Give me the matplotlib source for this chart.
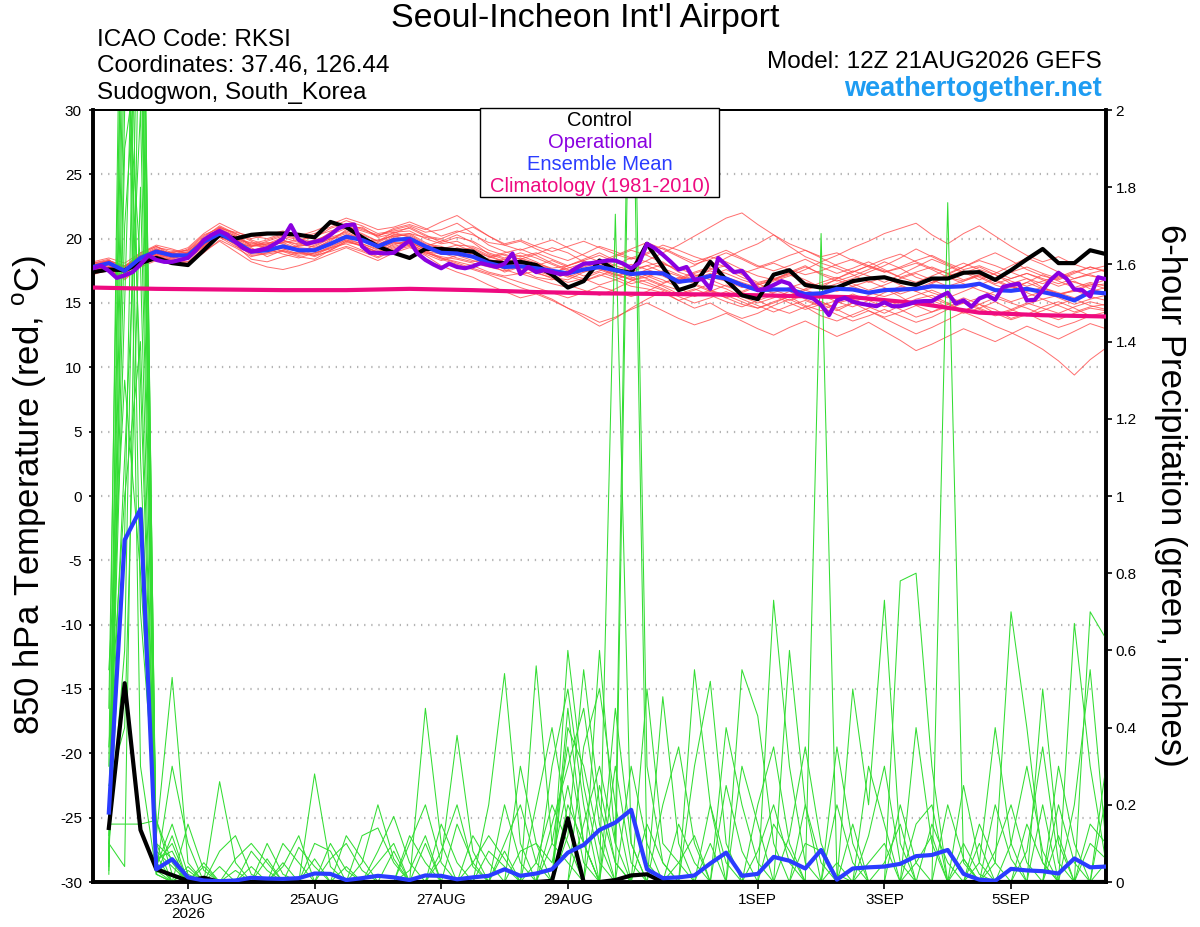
import matplotlib
matplotlib.use('Agg')
import matplotlib.pyplot as plt
from matplotlib.patches import Rectangle
from datetime import datetime, timedelta

plt.rcParams['font.family'] = ['Liberation Sans', 'DejaVu Sans']

# ---------------- data ----------------
start = datetime(2026, 8, 21, 12)
t6 = [start + timedelta(hours=6 * k) for k in range(65)]
t3 = [start + timedelta(hours=3 * j) for j in range(129)]

control_temp = [17.4, 17.6, 17.55, 18.1, 18.5, 18.1, 17.95, 19.1, 20.3, 20.0, 20.3, 20.4, 20.4, 20.3, 20.1, 21.3,
                20.9, 20.1, 19.4, 18.9, 18.5, 19.2, 19.2, 19.1, 19.0, 18.2, 18.1, 18.2, 17.95, 17.2, 16.2, 16.7,
                18.3, 17.55, 17.35, 19.6, 17.8, 16.0, 16.4, 18.2, 16.8, 15.6, 15.3, 17.2, 17.55, 16.4, 16.2, 16.2,
                16.7, 16.9, 17.0, 16.65, 16.4, 16.9, 16.9, 17.35, 17.4, 16.8, 17.55, 18.4, 19.2, 18.1, 18.1, 19.1, 18.8]

mean_temp = [17.8, 18.1, 17.5, 18.5, 19.0, 18.7, 18.7, 19.75, 20.4, 19.75, 19.0, 19.1, 19.4, 19.1, 19.1, 19.6,
             20.15, 19.9, 19.4, 19.9, 20.0, 19.4, 18.9, 18.85, 18.6, 18.1, 17.8, 17.85, 17.7, 17.5, 17.3, 17.6,
             17.8, 17.55, 17.25, 17.35, 17.3, 16.65, 16.8, 17.1, 16.9, 16.4, 16.0, 16.05, 16.05, 15.7, 15.75, 16.1,
             16.05, 15.8, 16.0, 16.05, 16.1, 16.3, 16.25, 16.3, 16.5, 16.0, 15.95, 16.1, 15.85, 15.6, 15.2, 15.85, 15.75]

oper_temp = [17.7, 17.9, 17.5, 16.95, 17.15, 17.4, 18.0, 18.7, 18.35, 18.2, 18.2, 18.35, 18.5, 19.1, 19.9, 20.3,
             20.6, 20.3, 19.75, 19.25, 19.0, 19.1, 19.25, 19.6, 20.0, 21.05, 19.9, 19.6, 19.75, 19.9, 20.3, 20.8,
             21.05, 21.1, 19.4, 18.9, 18.9, 18.85, 18.9, 19.4, 19.85, 18.85, 18.35, 18.0, 17.7, 18.05, 17.8, 17.7,
             17.85, 18.1, 17.95, 17.8, 18.05, 18.85, 17.25, 17.8, 17.4, 17.55, 17.4, 17.25, 17.3, 17.7, 18.05, 18.1,
             18.2, 18.3, 18.3, 18.05, 17.7, 18.1, 19.6, 19.25, 18.75, 18.2, 17.6, 17.8, 16.8, 16.85, 16.1, 18.5,
             17.95, 17.4, 17.5, 16.8, 16.0, 16.1, 16.4, 16.7, 16.5, 15.7, 15.5, 15.35, 14.85, 14.05, 15.2, 15.4,
             15.1, 14.95, 14.85, 14.75, 15.05, 14.75, 14.75, 14.9, 15.1, 15.15, 15.15, 15.5, 15.8, 14.95, 15.2, 14.7,
             15.35, 15.6, 15.25, 16.25, 16.4, 16.5, 15.2, 15.25, 16.0, 16.8, 17.35, 16.9, 16.05, 16.0, 15.5, 17.0, 16.85]

clim_days = [0, 4, 8, 12, 16, 20, 24, 28, 32, 36, 40, 44, 48, 52, 56, 60, 64]
clim_temp = [16.2, 16.1, 16.05, 16.0, 16.0, 16.1, 16.0, 15.85, 15.75, 15.7, 15.65, 15.55, 15.45, 15.0, 14.25, 14.05, 13.95]

member_temps = [
    [17.6, 17.9, 17.3, 18.2, 18.9, 18.5, 18.8, 19.9, 20.6, 20.1, 19.5, 19.3, 19.8, 19.6, 19.9, 20.3, 20.8, 20.4, 19.8, 20.5, 20.6, 20.0, 19.6, 19.8, 19.2, 18.6, 18.2, 18.5, 18.1, 17.7, 17.9, 18.4, 18.9, 18.3, 17.6, 17.9, 18.2, 17.4, 17.0, 17.6, 17.9, 17.2, 16.6, 16.9, 17.3, 16.8, 16.2, 16.9, 17.5, 17.1, 16.6, 17.2, 17.8, 18.4, 17.9, 17.3, 17.8, 17.2, 16.5, 16.9, 16.2, 15.7, 15.9, 16.4, 16.8],
    [17.9, 18.3, 17.8, 18.7, 19.3, 19.1, 18.9, 19.5, 20.2, 19.6, 18.7, 18.8, 19.0, 18.6, 18.4, 19.1, 19.7, 19.5, 18.9, 19.6, 19.8, 19.1, 18.5, 18.2, 17.9, 17.4, 17.1, 17.3, 16.9, 16.5, 16.2, 16.7, 17.2, 16.8, 16.3, 16.1, 15.8, 15.2, 15.6, 16.0, 15.4, 14.9, 14.6, 15.1, 15.5, 14.8, 14.4, 15.0, 15.3, 14.7, 14.2, 14.8, 15.3, 15.6, 15.0, 14.4, 14.9, 14.5, 13.8, 14.2, 13.6, 13.1, 13.5, 14.0, 14.3],
    [17.5, 17.8, 17.6, 18.8, 19.4, 18.9, 18.4, 19.6, 20.9, 20.3, 19.4, 19.6, 20.1, 19.7, 19.3, 19.8, 20.7, 20.9, 20.1, 20.4, 20.9, 20.3, 19.7, 20.1, 19.8, 19.1, 18.7, 18.4, 18.8, 19.3, 18.9, 18.2, 17.8, 18.6, 19.1, 18.7, 18.1, 17.5, 17.9, 18.6, 18.2, 17.6, 17.1, 16.8, 17.4, 17.9, 17.2, 16.7, 17.1, 17.6, 18.2, 17.7, 17.0, 16.6, 17.2, 17.8, 18.4, 18.9, 18.3, 17.6, 17.1, 16.8, 17.3, 17.8, 17.4],
    [18.1, 18.4, 17.2, 18.3, 18.8, 18.4, 18.9, 20.1, 21.0, 20.4, 19.8, 19.2, 18.8, 18.5, 18.9, 19.3, 19.6, 19.1, 18.6, 19.2, 19.5, 18.8, 18.3, 18.7, 18.9, 18.3, 17.6, 17.2, 17.5, 17.1, 16.6, 16.9, 17.4, 17.0, 16.5, 16.8, 16.3, 15.7, 16.1, 15.6, 15.1, 14.7, 15.2, 14.6, 14.2, 14.7, 15.1, 14.5, 13.9, 14.4, 13.8, 13.2, 12.6, 13.1, 13.7, 14.3, 13.8, 13.2, 12.7, 12.1, 11.4, 10.5, 9.4, 10.6, 11.5],
    [17.3, 17.5, 16.9, 17.9, 18.6, 18.7, 19.2, 20.3, 20.8, 20.5, 20.2, 20.0, 20.4, 20.2, 20.6, 21.1, 21.6, 21.2, 20.7, 20.9, 21.3, 20.8, 20.2, 20.6, 20.3, 19.7, 19.5, 19.8, 19.2, 18.7, 18.3, 18.8, 19.4, 19.0, 18.5, 18.9, 19.5, 19.1, 18.6, 18.2, 17.8, 17.3, 17.7, 18.1, 17.6, 17.2, 17.5, 18.0, 18.4, 17.9, 17.4, 17.7, 18.1, 17.6, 17.0, 16.7, 17.1, 16.5, 16.9, 17.3, 16.8, 16.3, 16.7, 16.1, 15.8],
    [17.7, 18.0, 17.9, 18.4, 18.7, 18.2, 18.5, 19.4, 20.1, 19.4, 18.9, 19.4, 19.7, 19.2, 19.0, 19.5, 20.0, 19.6, 19.1, 19.7, 19.6, 19.0, 18.8, 19.3, 18.9, 18.1, 17.4, 17.8, 17.4, 16.9, 16.4, 16.0, 15.6, 16.1, 16.7, 17.2, 16.8, 16.2, 15.5, 15.9, 16.4, 15.8, 15.2, 15.6, 15.0, 14.5, 14.9, 14.4, 15.0, 15.6, 16.1, 15.5, 14.8, 14.3, 14.7, 15.2, 14.6, 14.1, 14.5, 15.0, 14.6, 14.2, 14.7, 15.1, 14.8],
    [18.0, 18.2, 17.7, 18.6, 19.2, 18.8, 18.6, 19.8, 20.5, 19.9, 19.3, 18.6, 19.1, 19.5, 19.4, 20.0, 20.4, 19.9, 19.5, 20.2, 20.3, 19.6, 19.4, 19.0, 18.6, 18.3, 18.0, 17.6, 17.0, 16.8, 17.3, 17.9, 18.4, 17.9, 17.5, 17.1, 16.6, 16.9, 17.4, 17.8, 18.5, 19.1, 19.6, 20.3, 19.4, 18.6, 18.1, 17.7, 17.2, 16.6, 17.0, 16.4, 15.9, 16.5, 17.1, 17.5, 17.0, 16.4, 16.0, 16.6, 17.2, 16.7, 16.2, 16.6, 16.3],
    [17.4, 17.7, 17.5, 18.0, 18.9, 18.8, 19.0, 19.9, 20.7, 20.2, 19.6, 19.9, 20.3, 20.0, 19.7, 20.5, 21.0, 20.6, 20.2, 20.7, 21.0, 20.5, 20.7, 21.2, 20.4, 19.5, 19.0, 18.6, 18.9, 18.4, 17.9, 18.3, 18.7, 18.2, 17.7, 18.3, 18.9, 19.5, 20.2, 20.9, 21.6, 22.0, 21.1, 20.3, 19.6, 19.1, 18.6, 18.9, 18.3, 17.8, 17.4, 17.8, 18.3, 18.7, 18.1, 17.6, 17.9, 17.4, 16.9, 17.3, 16.9, 16.5, 16.9, 17.2, 16.8],
    [17.6, 17.8, 16.8, 17.9, 18.5, 18.3, 18.2, 19.3, 20.3, 19.5, 18.4, 18.2, 18.6, 18.9, 18.7, 19.0, 19.4, 19.0, 18.5, 19.1, 19.4, 18.7, 17.9, 17.4, 17.0, 16.4, 15.9, 15.4, 15.7, 15.2, 14.6, 14.1, 13.5, 13.9, 14.5, 15.0, 14.4, 13.8, 13.3, 13.7, 14.2, 13.6, 13.0, 12.5, 13.1, 13.6, 13.0, 12.4, 12.9, 13.5, 12.8, 12.1, 11.3, 11.8, 12.4, 13.0, 12.5, 12.0, 12.6, 13.2, 12.7, 12.2, 12.8, 13.4, 13.0],
    [17.9, 18.2, 17.4, 18.5, 19.1, 18.6, 18.7, 19.7, 20.4, 19.8, 19.1, 19.3, 19.2, 18.8, 19.2, 19.6, 20.3, 20.1, 19.6, 20.0, 19.7, 19.2, 19.1, 18.7, 18.3, 18.0, 17.7, 18.1, 17.9, 18.3, 17.8, 17.4, 17.9, 17.3, 16.8, 17.0, 17.5, 17.1, 16.6, 17.0, 16.7, 16.2, 16.5, 16.0, 15.6, 16.1, 16.6, 17.0, 16.5, 16.0, 16.4, 16.9, 17.3, 16.8, 16.3, 16.7, 17.2, 16.8, 16.3, 15.9, 16.2, 15.8, 15.4, 15.9, 16.2],
    [17.2, 17.6, 17.7, 18.6, 19.0, 18.9, 18.6, 19.5, 20.5, 20.0, 19.0, 19.5, 19.9, 19.3, 19.2, 19.9, 20.6, 20.2, 19.3, 20.1, 20.4, 19.7, 19.2, 19.5, 19.4, 18.9, 18.5, 18.9, 18.5, 18.0, 17.5, 17.8, 18.1, 17.6, 17.1, 17.6, 18.0, 17.7, 17.2, 16.8, 16.3, 15.9, 16.4, 16.8, 17.2, 16.6, 16.1, 16.5, 16.9, 17.4, 17.9, 18.5, 19.2, 18.6, 18.0, 17.4, 16.8, 17.3, 17.9, 18.5, 18.0, 17.4, 16.9, 17.3, 17.6],
    [17.8, 18.0, 17.6, 18.3, 18.8, 18.5, 18.9, 19.8, 20.6, 19.9, 19.2, 19.0, 19.3, 19.4, 19.6, 20.1, 20.5, 20.0, 19.7, 20.3, 20.2, 19.5, 19.0, 19.2, 18.8, 18.4, 18.1, 17.9, 17.3, 17.0, 16.8, 17.4, 17.7, 17.2, 16.9, 17.4, 17.1, 16.5, 16.9, 17.3, 16.9, 16.4, 16.1, 16.7, 17.1, 17.6, 18.2, 18.7, 19.3, 19.8, 20.4, 20.8, 21.2, 20.3, 19.6, 20.4, 21.0, 20.2, 19.4, 18.7, 18.2, 18.6, 18.0, 17.6, 17.9],
    [17.5, 17.7, 17.1, 18.1, 18.7, 19.0, 19.1, 20.0, 20.8, 20.2, 19.5, 19.7, 19.6, 19.1, 18.8, 19.4, 19.9, 19.4, 19.0, 19.5, 19.9, 19.4, 19.8, 20.3, 19.7, 18.8, 18.4, 18.7, 18.2, 17.6, 17.2, 16.9, 16.4, 16.8, 17.3, 16.9, 16.4, 16.0, 16.4, 15.9, 15.4, 15.8, 16.3, 15.7, 15.2, 15.6, 15.1, 14.6, 15.0, 14.4, 13.9, 14.3, 14.8, 15.2, 14.7, 14.2, 14.6, 15.1, 14.5, 14.0, 14.4, 14.9, 15.3, 14.8, 14.5],
    [18.2, 18.5, 18.1, 18.9, 19.5, 19.2, 18.8, 19.6, 20.1, 19.7, 19.4, 19.8, 20.2, 19.9, 20.1, 20.8, 21.2, 20.7, 20.3, 20.5, 20.1, 19.5, 19.3, 18.8, 18.5, 18.2, 18.4, 18.0, 17.8, 17.4, 17.7, 18.1, 17.6, 17.1, 17.4, 17.9, 17.4, 16.8, 17.1, 17.5, 17.0, 16.6, 16.2, 15.8, 16.2, 16.6, 16.3, 15.9, 16.3, 16.7, 16.2, 15.7, 16.1, 16.6, 17.0, 16.5, 16.0, 15.6, 15.1, 15.5, 15.9, 15.4, 14.9, 15.3, 15.6],
    [17.6, 18.0, 17.3, 18.4, 19.0, 18.6, 18.4, 19.4, 20.2, 19.6, 18.8, 18.9, 19.1, 18.7, 18.9, 19.2, 19.8, 19.4, 18.8, 19.3, 19.6, 19.0, 18.4, 18.0, 17.6, 17.2, 16.7, 16.2, 15.8, 15.3, 14.6, 13.9, 13.2, 13.8, 14.6, 15.3, 15.9, 15.2, 14.6, 15.0, 14.3, 13.8, 14.2, 14.8, 15.3, 14.7, 14.0, 13.6, 14.1, 14.6, 15.1, 14.5, 13.9, 14.3, 14.9, 15.4, 14.9, 14.2, 13.7, 14.1, 14.7, 15.1, 14.6, 14.0, 13.8],
    [17.8, 18.1, 17.8, 18.6, 19.2, 18.8, 18.9, 19.9, 20.6, 20.0, 19.4, 19.6, 19.9, 19.5, 19.8, 20.4, 21.1, 20.8, 20.2, 20.8, 21.1, 20.7, 21.3, 21.8, 21.0, 20.2, 19.6, 19.9, 19.4, 19.0, 19.4, 19.8, 19.3, 18.8, 18.4, 18.8, 19.3, 18.7, 18.2, 18.6, 19.1, 18.5, 17.9, 17.5, 17.9, 18.4, 17.8, 17.3, 17.7, 18.2, 17.6, 17.0, 17.4, 17.8, 17.3, 16.8, 17.2, 16.7, 16.2, 16.6, 16.1, 15.7, 16.0, 16.5, 16.1],
    [17.4, 17.6, 17.0, 18.0, 18.6, 18.4, 18.5, 19.6, 20.4, 19.7, 19.0, 19.2, 19.5, 19.0, 18.6, 19.1, 19.8, 19.5, 18.9, 19.4, 19.7, 19.2, 18.8, 19.1, 19.3, 18.7, 18.2, 17.7, 17.9, 17.5, 17.0, 17.5, 18.0, 17.5, 17.0, 16.6, 16.1, 15.6, 16.0, 16.5, 16.1, 15.5, 15.0, 15.4, 15.9, 15.3, 14.8, 15.2, 15.7, 15.2, 14.7, 15.1, 15.6, 16.0, 15.5, 15.0, 15.4, 15.9, 16.3, 15.8, 15.3, 15.6, 16.0, 15.5, 15.2],
    [18.0, 18.3, 17.9, 18.7, 19.0, 18.9, 19.1, 20.2, 20.9, 20.4, 19.9, 19.5, 19.7, 19.9, 20.2, 20.6, 20.9, 20.3, 19.8, 20.3, 20.4, 20.1, 19.9, 19.5, 19.0, 18.6, 18.9, 19.2, 18.7, 18.1, 17.6, 17.1, 17.5, 18.0, 18.5, 18.2, 17.7, 17.2, 16.7, 17.1, 17.6, 17.0, 16.5, 16.9, 16.4, 16.0, 16.4, 16.8, 16.3, 15.8, 15.5, 15.9, 16.3, 15.8, 15.4, 15.9, 16.4, 16.9, 17.4, 16.9, 16.5, 17.0, 17.5, 17.1, 16.9],
    [17.3, 17.5, 17.0, 17.8, 18.3, 18.0, 18.2, 19.0, 19.8, 19.0, 18.2, 17.8, 17.6, 17.9, 18.3, 18.8, 19.3, 18.8, 18.3, 18.9, 19.3, 18.9, 18.5, 18.1, 17.7, 17.3, 17.0, 16.6, 16.2, 15.8, 15.4, 15.8, 16.3, 15.9, 15.5, 15.9, 16.5, 17.0, 16.5, 16.0, 15.6, 15.1, 14.6, 15.0, 15.5, 16.0, 15.6, 15.1, 14.7, 15.2, 15.8, 16.3, 15.9, 15.4, 14.9, 14.4, 14.9, 15.4, 15.0, 14.6, 14.1, 13.7, 14.2, 14.6, 14.4],
    [17.9, 18.2, 17.6, 18.5, 19.1, 18.9, 19.3, 20.4, 21.2, 20.6, 20.0, 20.3, 20.6, 20.1, 20.4, 20.9, 21.4, 21.0, 20.4, 20.6, 20.8, 20.2, 20.0, 20.5, 20.9, 20.2, 19.5, 19.1, 19.5, 19.9, 19.3, 18.7, 18.2, 18.7, 19.2, 19.7, 19.2, 18.6, 18.0, 18.4, 18.9, 18.4, 17.8, 18.2, 18.7, 19.1, 18.5, 17.9, 17.4, 17.9, 18.4, 18.8, 18.2, 17.7, 17.3, 17.8, 18.3, 17.9, 17.4, 17.8, 17.3, 16.9, 17.4, 17.8, 17.5],
    [17.6, 17.8, 17.5, 18.3, 18.7, 18.3, 18.0, 18.9, 19.9, 19.3, 18.6, 18.9, 19.3, 19.0, 18.7, 19.3, 19.9, 19.6, 19.2, 19.7, 19.5, 18.9, 18.6, 18.4, 18.1, 17.8, 17.5, 17.9, 17.6, 17.2, 17.9, 18.3, 17.7, 17.2, 16.8, 16.4, 16.0, 15.5, 15.0, 15.4, 15.9, 15.3, 14.8, 14.3, 14.8, 15.2, 14.7, 14.1, 13.6, 14.0, 14.5, 14.0, 13.5, 13.9, 14.5, 15.0, 14.5, 14.0, 14.4, 14.9, 15.3, 14.8, 14.3, 14.7, 14.9],
    [18.1, 18.3, 17.8, 18.9, 19.4, 18.7, 18.5, 19.5, 20.3, 19.9, 19.7, 19.4, 19.0, 18.9, 19.5, 20.0, 20.2, 19.8, 19.9, 20.2, 19.8, 19.3, 18.9, 18.5, 18.2, 18.5, 18.8, 18.4, 18.0, 17.6, 17.1, 16.7, 17.1, 17.6, 18.0, 17.6, 17.2, 16.8, 17.3, 17.7, 17.3, 16.8, 16.4, 16.8, 17.3, 17.8, 17.3, 16.9, 17.4, 17.9, 17.5, 17.0, 16.6, 17.1, 17.6, 18.1, 17.6, 17.2, 16.7, 16.3, 16.7, 17.1, 16.6, 16.3, 16.5],
]

# 6-hour precipitation (inches), steps 1..64 after 21AUG 12Z
mean_precip = [0.18, 0.886, 0.966, 0.033, 0.059, 0.012, 0.004, 0.002, 0.004, 0.011, 0.009, 0.008, 0.01, 0.022,
               0.021, 0.005, 0.01, 0.016, 0.012, 0.005, 0.017, 0.016, 0.007, 0.012, 0.016, 0.033, 0.016, 0.022,
               0.033, 0.076, 0.096, 0.135, 0.154, 0.187, 0.033, 0.01, 0.012, 0.017, 0.048, 0.076, 0.016, 0.021,
               0.065, 0.055, 0.035, 0.083, 0.006, 0.035, 0.038, 0.04, 0.047, 0.067, 0.07, 0.083, 0.021, 0.006,
               0.003, 0.034, 0.03, 0.028, 0.022, 0.061, 0.038, 0.04]
control_precip = {1: 0.14, 2: 0.515, 3: 0.135, 4: 0.033, 5: 0.018, 6: 0.003, 7: 0.011, 29: 0.003, 30: 0.165,
                  33: 0.005, 34: 0.017, 35: 0.02}
member_precips = [
    {1: 0.55, 2: 1.3, 3: 0.8, 4: 0.12, 5: 0.53, 6: 0.05, 14: 0.28, 15: 0.04, 22: 0.06, 23: 0.38, 24: 0.08, 30: 0.12, 31: 0.55, 32: 0.2, 33: 0.05, 43: 0.73, 44: 0.3, 45: 0.05, 57: 0.05, 58: 0.7, 59: 0.4, 60: 0.05},
    {1: 0.15, 2: 2.6, 3: 2.4, 4: 0.05, 5: 0.1, 8: 0.26, 9: 0.05, 18: 0.08, 19: 0.17, 20: 0.05, 28: 0.56, 29: 0.1, 30: 0.35, 31: 0.1, 33: 1.73, 34: 0.1, 46: 1.68, 47: 0.02, 52: 0.15, 53: 0.2, 62: 0.67, 63: 0.3, 64: 0.05},
    {1: 0.08, 2: 0.9, 3: 3.0, 4: 0.02, 6: 0.15, 7: 0.03, 12: 0.1, 13: 0.05, 25: 0.2, 26: 0.54, 27: 0.1, 32: 0.6, 33: 0.1, 34: 2.6, 35: 0.3, 36: 0.05, 48: 0.5, 49: 0.2, 50: 0.73, 51: 0.1, 63: 0.7, 64: 0.63},
    {1: 0.3, 2: 3.2, 3: 1.1, 4: 0.08, 5: 0.04, 10: 0.04, 21: 0.45, 22: 0.1, 29: 0.3, 30: 0.5, 31: 0.2, 34: 2.4, 35: 0.05, 38: 0.3, 39: 0.52, 40: 0.1, 54: 1.76, 55: 0.05, 60: 0.2},
    {1: 0.03, 2: 1.9, 3: 2.2, 4: 0.1, 5: 0.06, 11: 0.06, 17: 0.12, 18: 0.14, 19: 0.05, 30: 0.4, 31: 0.3, 32: 0.1, 41: 0.55, 42: 0.43, 43: 0.1, 51: 0.78, 52: 0.8, 53: 0.3, 64: 0.22},
    {1: 0.1, 2: 0.6, 3: 2.7, 4: 0.04, 5: 0.15, 6: 0.02, 9: 0.03, 14: 0.1, 15: 0.08, 23: 0.15, 24: 0.05, 27: 0.08, 28: 0.1, 29: 0.05, 30: 0.25, 31: 0.05, 36: 0.48, 37: 0.1, 44: 0.6, 45: 0.2, 47: 0.05, 56: 0.05, 57: 0.4, 58: 0.1},
    {1: 0.05, 2: 2.2, 3: 1.6, 4: 0.03, 13: 0.09, 14: 0.04, 20: 0.1, 21: 0.2, 22: 0.05, 26: 0.1, 27: 0.2, 28: 0.05, 35: 0.5, 36: 0.1, 37: 0.05, 42: 0.2, 43: 0.35, 44: 0.1, 55: 0.25, 56: 0.05, 60: 0.5, 61: 0.1},
    {1: 0.12, 2: 1.5, 3: 2.9, 4: 0.06, 5: 0.08, 12: 0.05, 16: 0.04, 24: 0.12, 25: 0.05, 29: 0.15, 30: 0.3, 31: 0.45, 32: 0.15, 38: 0.55, 39: 0.2, 47: 0.35, 48: 0.1, 53: 0.15, 54: 0.05, 61: 0.3, 62: 0.1},
    {1: 0.04, 2: 2.9, 3: 0.7, 4: 0.16, 5: 0.02, 7: 0.05, 18: 0.05, 19: 0.1, 26: 0.2, 27: 0.05, 31: 0.15, 32: 0.3, 33: 0.1, 40: 0.25, 41: 0.08, 49: 0.12, 50: 0.3, 51: 0.05, 59: 0.15, 60: 0.05},
    {1: 0.2, 2: 1.1, 3: 2.0, 4: 0.05, 6: 0.04, 15: 0.06, 16: 0.1, 17: 0.03, 22: 0.15, 23: 0.05, 30: 0.2, 31: 0.1, 37: 0.15, 38: 0.05, 45: 0.2, 46: 0.05, 52: 0.05, 53: 0.12, 57: 0.08, 58: 0.2, 59: 0.05},
    {1: 0.07, 2: 2.4, 3: 1.3, 4: 0.02, 5: 0.12, 10: 0.08, 11: 0.03, 21: 0.1, 28: 0.05, 29: 0.2, 30: 0.1, 34: 0.3, 35: 0.1, 39: 0.2, 40: 0.05, 48: 0.15, 56: 0.1, 62: 0.2, 63: 0.55, 64: 0.1},
    {1: 0.25, 2: 0.4, 3: 1.8, 4: 0.1, 8: 0.08, 9: 0.12, 10: 0.02, 19: 0.08, 25: 0.08, 26: 0.04, 30: 0.15, 33: 0.3, 34: 0.05, 43: 0.15, 44: 0.08, 49: 0.05, 50: 0.1, 55: 0.06, 61: 0.12, 64: 0.05},
    {1: 0.15, 2: 0.15, 3: 0.15, 4: 0.16, 5: 0.05, 9: 0.06, 10: 0.1, 11: 0.05, 16: 0.12, 17: 0.06, 24: 0.05, 25: 0.12, 26: 0.06, 31: 0.35, 32: 0.5, 33: 0.2, 41: 0.3, 42: 0.15, 49: 0.3, 50: 0.15, 57: 0.2, 58: 0.06, 63: 0.15, 64: 0.1},
    {1: 0.1, 2: 0.04, 3: 2.5, 4: 0.05, 7: 0.04, 14: 0.06, 20: 0.12, 21: 0.05, 28: 0.2, 29: 0.4, 30: 0.15, 36: 0.2, 37: 0.35, 38: 0.1, 45: 0.1, 46: 0.08, 52: 0.4, 53: 0.1, 59: 0.08, 60: 0.35, 61: 0.05},
    {1: 0.02, 2: 2.0, 3: 3.0, 4: 0.03, 5: 0.3, 6: 0.1, 12: 0.04, 13: 0.12, 22: 0.08, 23: 0.2, 24: 0.04, 30: 0.45, 31: 0.1, 35: 0.15, 36: 0.05, 40: 0.4, 41: 0.2, 42: 0.05, 51: 0.2, 52: 0.05, 55: 0.1, 56: 0.02, 64: 0.3},
    {1: 0.45, 2: 2.8, 3: 0.3, 4: 0.02, 8: 0.04, 17: 0.05, 18: 0.2, 19: 0.06, 27: 0.3, 28: 0.1, 32: 0.25, 33: 0.05, 39: 0.1, 44: 0.12, 45: 0.35, 46: 0.1, 54: 0.2, 55: 0.06, 61: 0.2, 62: 0.05},
    {1: 0.06, 2: 1.7, 3: 2.3, 4: 0.04, 5: 0.02, 11: 0.1, 12: 0.02, 20: 0.03, 21: 0.12, 29: 0.1, 30: 0.05, 33: 0.45, 34: 0.1, 37: 0.05, 38: 0.12, 47: 0.2, 48: 0.05, 56: 0.15, 57: 0.05, 63: 0.1, 64: 0.06},
    {1: 0.35, 2: 1.0, 3: 1.4, 4: 0.07, 6: 0.03, 15: 0.1, 16: 0.03, 26: 0.08, 30: 0.6, 31: 0.25, 32: 0.05, 42: 0.08, 43: 0.2, 44: 0.05, 50: 0.05, 51: 0.15, 58: 0.1, 59: 0.3, 60: 0.08},
]

temp_ticks = [-30, -25, -20, -15, -10, -5, 0, 5, 10, 15, 20, 25, 30]
precip_ticks = [0, 0.2, 0.4, 0.6, 0.8, 1.0, 1.2, 1.4, 1.6, 1.8, 2.0]
precip_labels = ['0', '0.2', '0.4', '0.6', '0.8', '1', '1.2', '1.4', '1.6', '1.8', '2']
date_ticks = [datetime(2026, 8, 23), datetime(2026, 8, 25), datetime(2026, 8, 27), datetime(2026, 8, 29),
              datetime(2026, 9, 1), datetime(2026, 9, 3), datetime(2026, 9, 5)]
date_labels = ['23AUG\n2026', '25AUG', '27AUG', '29AUG', '1SEP', '3SEP', '5SEP']

# ---------------- colours ----------------
RED = '#ff4a4a'
GREEN = '#33dd33'
BLUE = '#2a3cff'
PURPLE = '#8a00e0'
PINK = '#ee0a80'

# ---------------- figure ----------------
W, H = 1200, 927
fig = plt.figure(figsize=(W / 100, H / 100), dpi=100)
ax = fig.add_axes([93 / W, 45 / H, 1013 / W, 772 / H])
ax2 = ax.twinx()
ax3 = ax.twinx()
ax.set_zorder(1)
ax2.set_zorder(2)
ax3.set_zorder(3)
ax2.patch.set_visible(False)
ax3.patch.set_visible(False)

xlim = (start, start + timedelta(days=16))
for a in (ax, ax2, ax3):
    a.set_xlim(*xlim)
ax.set_ylim(-30, 30)
ax3.set_ylim(-30, 30)
ax2.set_ylim(0, 2)

# grid
for v in temp_ticks[1:-1]:
    ax.axhline(v, xmin=0.008, xmax=0.992, color='#b4b4b4', lw=1.6, ls=(0, (0.6, 2.6)), zorder=0)

# temperature members
for m in member_temps:
    ax.plot(t6[:len(m)], m, color=RED, lw=0.7, alpha=0.8, zorder=2)

# precip members
for d in member_precips:
    vals = [d.get(k, 0.0) for k in range(1, 65)]
    ax2.plot(t6[1:65], vals, color=GREEN, lw=0.75, zorder=2)

cp = [control_precip.get(k, 0.0) for k in range(1, 65)]
ax2.plot(t6[1:65], cp, color='black', lw=3, zorder=4)
ax2.plot(t6[1:1 + len(mean_precip)], mean_precip, color=BLUE, lw=3, zorder=5)

# main temperature lines
ax3.plot([t6[k] for k in clim_days], clim_temp, color=PINK, lw=3, zorder=2)
ax3.plot(t6[:len(control_temp)], control_temp, color='black', lw=3, zorder=3)
ax3.plot(t6[:len(mean_temp)], mean_temp, color=BLUE, lw=3, zorder=4)
ax3.plot(t3[:len(oper_temp)], oper_temp, color=PURPLE, lw=3, zorder=5)

# axes styling
ax.set_yticks(temp_ticks)
ax.set_yticklabels([str(v) for v in temp_ticks], fontsize=11)
ax.tick_params(axis='y', direction='out', length=3, width=1.2, pad=5)
ax.set_xticks(date_ticks)
ax.set_xticklabels(date_labels, fontsize=11, linespacing=1.0)
ax.tick_params(axis='x', direction='out', length=5, width=1.2, pad=3)

ax2.set_yticks(precip_ticks)
ax2.set_yticklabels(precip_labels, fontsize=11)
ax2.tick_params(axis='y', direction='out', length=4, width=1.2, pad=3)

ax3.set_yticks([])
for s in ax3.spines.values():
    s.set_visible(False)
ax3.tick_params(axis='x', which='both', bottom=False, labelbottom=False)
ax2.tick_params(axis='x', which='both', bottom=False, labelbottom=False)

for a in (ax, ax2):
    for name, s in a.spines.items():
        s.set_linewidth(1.4 if name == 'top' else 2.6)
        s.set_color('black')

# axis labels
fig.text(30 / W, 1 - 495 / H, '850 hPa Temperature (red, $^{\\mathregular{o}}$C)', rotation=90,
         ha='center', va='center', fontsize=25)
fig.text(1171 / W, 1 - 495 / H, '6-hour Precipitation (green, inches)', rotation=270,
         ha='center', va='center', fontsize=25)

# header
fig.text(585 / W, 1 - 19 / H, "Seoul-Incheon Int'l Airport", ha='center', va='center', fontsize=24.5)
fig.text(97 / W, 1 - 40 / H, 'ICAO Code: RKSI', ha='left', va='center', fontsize=17.5)
fig.text(97 / W, 1 - 66 / H, 'Coordinates: 37.46, 126.44', ha='left', va='center', fontsize=17.5)
fig.text(97 / W, 1 - 93 / H, 'Sudogwon, South_Korea', ha='left', va='center', fontsize=17.5)
fig.text(1102 / W, 1 - 62 / H, 'Model: 12Z 21AUG2026 GEFS', ha='right', va='center', fontsize=17.5)
fig.text(1102 / W, 1 - 89 / H, 'weathertogether.net', ha='right', va='center', fontsize=19.5,
         fontweight='bold', color='#1e9cf2')

# legend box
box = Rectangle((480 / W, 1 - 197 / H), 239 / W, 89 / H, transform=fig.transFigure,
                facecolor='white', edgecolor='black', lw=1.0, zorder=10)
fig.patches.append(box)
leg_items = [('Control', 'black', 121), ('Operational', PURPLE, 142), ('Ensemble Mean', BLUE, 164),
             ('Climatology (1981-2010)', PINK, 186)]
for txt, col, yy in leg_items:
    fig.text(600 / W, 1 - yy / H, txt, ha='center', va='center', fontsize=14.5, color=col, zorder=11)

fig.savefig('out.png', dpi=100)
